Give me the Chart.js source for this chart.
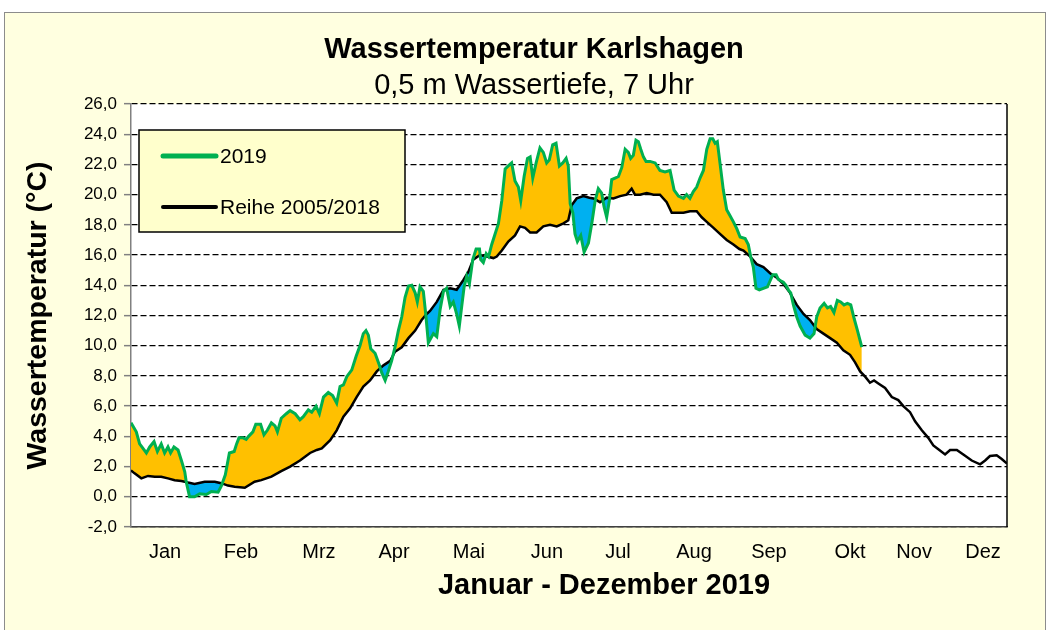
<!DOCTYPE html>
<html>
<head>
<meta charset="utf-8">
<title>Wassertemperatur Karlshagen</title>
<script src="https://cdn.jsdelivr.net/npm/chart.js@4.4.1/dist/chart.umd.min.js"></script>
<style>
  html, body { margin: 0; padding: 0; background: #fff; }
  #wrap { position: absolute; left: 0; top: 0; width: 1048px; height: 630px; }
</style>
</head>
<body>
<div id="wrap"><canvas id="chart" width="1048" height="630"></canvas></div>
<script>
// 2019 readings (day of year, °C)
const days2019 = [0, 2.2, 3.6, 5, 6.4, 7.8, 9.6, 11, 12.6, 14, 15.4, 16.5, 17.9, 19.6, 21, 22.4, 23, 24.4, 26.5, 28.6,
  31.4, 33.5, 36.3, 37.6, 39.3, 41, 43, 44, 45, 46.7, 48, 49, 50.8, 52, 54, 55.4, 56.8, 58.5, 60, 61,
  62.6, 64.7, 66.3, 68.4, 70.4, 71.8, 73.9, 75.3, 77.1, 78.5, 80.2, 82.2, 84, 85.7, 87.1, 88.5, 89.9, 92, 93.8, 95.4,
  96.8, 97.9, 98.9, 99.9, 101.7, 103.5, 104.5, 105.9, 107.2, 108.6, 110, 111.4, 112.8, 114.2, 115.6, 117, 118.4, 119.3, 120.4, 121.8,
  122.8, 123.9, 126, 127.4, 128.8, 130.2, 131.5, 133, 134.3, 135.7, 136.8, 137.8, 138.8, 139.9, 141, 142.4, 143.8, 145.2, 145.7, 146.8,
  148, 149, 150.3, 151.7, 153.1, 154.5, 155.9, 157.2, 158.6, 160, 161.4, 162.4, 163.8, 165.2, 166.3, 167.4, 168.8, 170.4, 171.8, 173.2,
  174.3, 175.7, 177.1, 178.5, 179.9, 181.3, 182.2, 183, 184.1, 185, 186, 187.4, 188.8, 190.6, 192, 193.4, 194.7, 196.1, 197.1, 198.2,
  199.3, 200.3, 201.7, 203.1, 204.5, 205.9, 207.2, 208.2, 209.3, 210.4, 211.4, 212.4, 213.5, 214.6, 216.3, 218.4, 220.4, 222.5, 224.6, 226.3,
  228.1, 230.2, 231.5, 232.9, 234.3, 235.7, 237.1, 238.5, 239.9, 241.3, 242.4, 243.4, 244.3, 245.4, 246.8, 248.2, 249.6, 251, 252.4, 253.8,
  255.9, 257.2, 258.2, 259.3, 260.4, 261.8, 263.5, 265.2, 266.3, 267.4, 268.8, 269.7, 270.7, 271.8, 272.9, 273.9, 274.9, 276, 277.4, 278.8,
  280.9, 282.9, 284.6, 285.7, 287.1, 288.8, 290.2, 291.5, 292.9, 294.3, 295.7, 297.1, 298.5, 299.9, 301.3, 302.7, 304.5];
const temp2019 = [4.9, 4.3, 3.5, 3.2, 2.9, 3.3, 3.65, 3.0, 3.5, 2.9, 3.3, 2.9, 3.3, 3.1, 2.4, 1.65, 1.0, 0.0, 0.0, 0.2,
  0.15, 0.35, 0.3, 0.7, 1.45, 2.9, 3.0, 3.5, 3.9, 3.9, 3.8, 4.0, 4.3, 4.8, 4.8, 4.1, 4.4, 4.9, 4.7, 4.3,
  5.2, 5.5, 5.7, 5.5, 5.1, 5.3, 5.75, 5.6, 6.0, 5.5, 6.6, 6.9, 6.7, 6.2, 7.3, 7.4, 7.95, 8.4, 9.3, 10.0,
  10.8, 11.0, 10.7, 9.8, 9.5, 8.7, 8.2, 7.7, 8.3, 9.0, 9.9, 11.0, 11.9, 13.2, 13.95, 14.0, 13.5, 12.9, 13.9, 13.6,
  12.1, 10.2, 10.8, 10.6, 12.4, 13.6, 13.8, 12.6, 12.9, 12.1, 11.3, 12.6, 13.9, 14.6, 14.1, 15.7, 16.4, 16.4, 15.7, 15.5,
  16.1, 15.9, 16.7, 17.4, 18.1, 19.6, 21.7, 21.9, 22.1, 20.9, 20.5, 19.6, 21.2, 22.4, 22.5, 21.1, 22.1, 23.1, 22.8, 22.1,
  22.3, 23.3, 23.4, 21.9, 22.1, 22.4, 21.9, 19.4, 18.8, 17.4, 16.9, 17.3, 16.2, 16.8, 18.1, 19.6, 20.4, 20.1, 19.2, 18.5,
  19.6, 21.0, 21.1, 21.2, 21.8, 23.0, 22.8, 22.4, 22.6, 23.6, 23.5, 23.0, 22.5, 22.2, 22.2, 22.1, 21.6, 21.5, 21.6, 20.3,
  19.9, 19.75, 20.0, 19.75, 20.2, 20.5, 21.1, 21.6, 23.0, 23.7, 23.7, 23.4, 23.5, 22.1, 20.3, 19.0, 18.6, 18.2, 17.75, 17.2,
  17.1, 16.7, 15.9, 15.2, 13.8, 13.7, 13.8, 13.9, 14.3, 14.7, 14.7, 14.4, 14.3, 14.2, 14.0, 13.7, 13.5, 12.7, 11.9, 11.3,
  10.7, 10.5, 10.8, 11.9, 12.5, 12.8, 12.5, 12.6, 12.2, 13.0, 12.9, 12.7, 12.8, 12.7, 11.8, 11.0, 9.9];

// long-term series 2005/2018 (day of year, °C)
const daysReihe = [0, 1.5, 4.3, 7.1, 9.9, 12.6, 15.4, 18.2, 21, 23.8, 26.5, 30.7, 34.9, 37.6, 40.4, 43.2, 47.4, 51.5, 54.3, 58.5,
  62.6, 66.3, 70.4, 74.6, 77.4, 79.5, 83, 85.7, 88.5, 91.3, 94, 96.8, 99.6, 102.4, 105.2, 108, 110, 112.8, 115.6, 118.4,
  121.1, 123.2, 124.6, 127.4, 130.2, 133, 135.7, 138.5, 140.6, 142.6, 145.4, 148.2, 151, 152.4, 154.5, 157.2, 160, 162.1, 164.2, 166.3,
  169, 171.8, 174.6, 177.4, 180.2, 182.2, 183.6, 185.7, 188.5, 191, 192.7, 195.4, 198.2, 201, 203.8, 206.5, 208.6, 210, 212.1, 214.9,
  217.7, 220.4, 223.2, 225.3, 227.4, 230.2, 232.9, 235.7, 237.8, 239.9, 242.7, 245.4, 248.2, 251, 253.5, 255.2, 258, 260.7, 263.5, 266.3,
  269.1, 271.8, 274.6, 277.4, 280.2, 282.9, 285.7, 288.5, 291.3, 294.1, 296.8, 299.6, 301.7, 303.8, 305.9, 307.9, 309.6, 311.4, 314.2, 317,
  319.7, 321.8, 324.6, 326.7, 329.5, 332.2, 334.3, 336.8, 339.2, 341.3, 344.1, 346.8, 350.3, 353.8, 355.9, 357.9, 360.7, 362.8, 365];
const tempReihe = [1.75, 1.55, 1.22, 1.38, 1.33, 1.33, 1.22, 1.1, 1.05, 0.94, 0.85, 1.0, 1.0, 0.9, 0.74, 0.67, 0.6, 1.0, 1.1, 1.33,
  1.7, 2.0, 2.4, 2.9, 3.1, 3.2, 3.75, 4.4, 5.3, 5.85, 6.6, 7.3, 7.7, 8.3, 8.7, 9.0, 9.6, 9.9, 10.5, 11.0,
  11.7, 12.1, 12.3, 12.9, 13.7, 13.8, 13.7, 14.35, 14.9, 15.7, 16.0, 15.9, 15.8, 15.9, 16.3, 16.9, 17.3, 17.9, 17.8, 17.5,
  17.5, 17.9, 18.0, 17.9, 18.1, 18.3, 19.3, 19.75, 19.9, 19.8, 19.75, 19.5, 19.8, 19.75, 19.9, 20.0, 20.4, 20.0, 20.0, 20.1,
  20.0, 20.0, 19.5, 18.8, 18.8, 18.8, 18.9, 18.9, 18.5, 18.2, 17.8, 17.4, 17.0, 16.7, 16.4, 16.3, 15.9, 15.4, 15.2, 14.8,
  14.5, 14.1, 13.5, 12.7, 12.1, 11.7, 11.1, 10.8, 10.5, 10.2, 9.7, 9.4, 8.9, 8.3, 7.95, 7.55, 7.7, 7.5, 7.2, 6.6,
  6.4, 6.0, 5.6, 5.0, 4.4, 3.9, 3.4, 3.1, 2.8, 3.1, 3.1, 2.8, 2.4, 2.15, 2.4, 2.7, 2.75, 2.5, 2.2];

const monthLabels = ["Jan", "Feb", "Mrz", "Apr", "Mai", "Jun", "Jul", "Aug", "Sep", "Okt", "Nov", "Dez"];
const monthTickDays = [14.2, 45.8, 78.3, 109.6, 140.8, 173.3, 202.9, 234.6, 265.8, 299.6, 326.3, 355];

const titleText = "Wassertemperatur Karlshagen";
const subtitleText = "0,5 m Wassertiefe, 7 Uhr";
const xTitleText = "Januar - Dezember 2019";
const yTitleText = "Wassertemperatur (°C)";

const FONT = '"Liberation Sans", Arial, sans-serif';
Chart.defaults.font.family = FONT;
Chart.defaults.color = "#000";

// background, plot frame, titles and the boxed legend
const framePlugin = {
  id: "frame",
  beforeDraw(chart) {
    const { ctx, chartArea: a } = chart;
    ctx.save();
    ctx.fillStyle = "#fff";
    ctx.fillRect(0, 0, chart.width, chart.height);
    ctx.fillStyle = "#FFFFE0";
    ctx.fillRect(4.5, 12.5, 1041, 640);
    ctx.strokeStyle = "#8c8c8c";
    ctx.lineWidth = 1;
    ctx.strokeRect(4.5, 12.5, 1041, 640);
    ctx.fillStyle = "#fff";
    ctx.fillRect(a.left, a.top, a.right - a.left, a.bottom - a.top);
    ctx.restore();
  },
  afterDraw(chart) {
    const { ctx, chartArea: a } = chart;
    ctx.save();
    // right border of the plot
    ctx.strokeStyle = "#000";
    ctx.lineWidth = 1.5;
    ctx.beginPath();
    ctx.moveTo(a.right, a.top);
    ctx.lineTo(a.right, a.bottom);
    ctx.stroke();

    // titles
    ctx.fillStyle = "#000";
    ctx.textAlign = "center";
    ctx.textBaseline = "alphabetic";
    ctx.font = "bold 29px " + FONT;
    ctx.fillText(titleText, 534, 58);
    ctx.font = "29px " + FONT;
    ctx.fillText(subtitleText, 534, 94);
    ctx.font = "bold 29px " + FONT;
    ctx.fillText(xTitleText, 604, 594);

    // legend box
    ctx.fillStyle = "#FFFFCC";
    ctx.fillRect(139, 130, 266, 102);
    ctx.strokeStyle = "#000";
    ctx.lineWidth = 1.5;
    ctx.strokeRect(139, 130, 266, 102);
    const rows = [156, 207];
    chart.data.datasets.forEach((ds, i) => {
      ctx.strokeStyle = ds.borderColor;
      ctx.lineWidth = i === 0 ? 5 : 4;
      ctx.lineCap = "round";
      ctx.beginPath();
      ctx.moveTo(163, rows[i]);
      ctx.lineTo(216, rows[i]);
      ctx.stroke();
      ctx.fillStyle = "#000";
      ctx.font = "21px " + FONT;
      ctx.textAlign = "left";
      ctx.textBaseline = "middle";
      ctx.fillText(ds.label, 220, rows[i] + 1);
    });
    ctx.restore();
  }
};

const ctx = document.getElementById("chart").getContext("2d");
new Chart(ctx, {
  type: "line",
  data: {
    datasets: [
      {
        label: "2019",
        data: days2019.map((d, i) => ({ x: d, y: temp2019[i] })),
        borderColor: "#00B050",
        borderWidth: 3,
        pointRadius: 0,
        tension: 0,
        fill: { target: 1, above: "#FFC000", below: "#00B0F0" }
      },
      {
        label: "Reihe 2005/2018",
        data: daysReihe.map((d, i) => ({ x: d, y: tempReihe[i] })),
        borderColor: "#000",
        borderWidth: 2.5,
        pointRadius: 0,
        tension: 0,
        fill: false
      }
    ]
  },
  options: {
    responsive: false,
    animation: false,
    events: [],
    layout: { padding: { top: 104, left: 0, right: 41, bottom: 0 } },
    plugins: {
      legend: { display: false },
      title: { display: false },
      tooltip: { enabled: false },
      filler: { drawTime: "beforeDatasetsDraw" }
    },
    scales: {
      x: {
        type: "linear",
        min: 0,
        max: 365,
        afterBuildTicks: (scale) => {
          scale.ticks = monthTickDays.map((v) => ({ value: v }));
        },
        afterFit: (scale) => { scale.height = 103; },
        grid: { display: false, drawTicks: false },
        border: { display: true, color: "#404040", width: 1.5 },
        ticks: {
          autoSkip: false,
          maxRotation: 0,
          padding: 13,
          font: { size: 20 },
          callback: (v, i) => monthLabels[i]
        }
      },
      y: {
        min: -2,
        max: 26,
        afterFit: (scale) => { scale.width = 131; },
        grid: { color: "#000", lineWidth: 1.3, tickLength: 7, tickColor: "#808080", tickWidth: 1.5, tickBorderDash: [] },
        border: { display: true, color: "#808080", width: 1.5, dash: [6, 3] },
        ticks: {
          stepSize: 2,
          padding: 7,
          font: { size: 17 },
          callback: (v) => v.toFixed(1).replace(".", ",")
        },
        title: {
          display: true,
          text: yTitleText,
          font: { size: 28.5, weight: "bold" },
          padding: { top: 21, bottom: 0 }
        }
      }
    }
  },
  plugins: [framePlugin]
});
</script>
</body>
</html>
